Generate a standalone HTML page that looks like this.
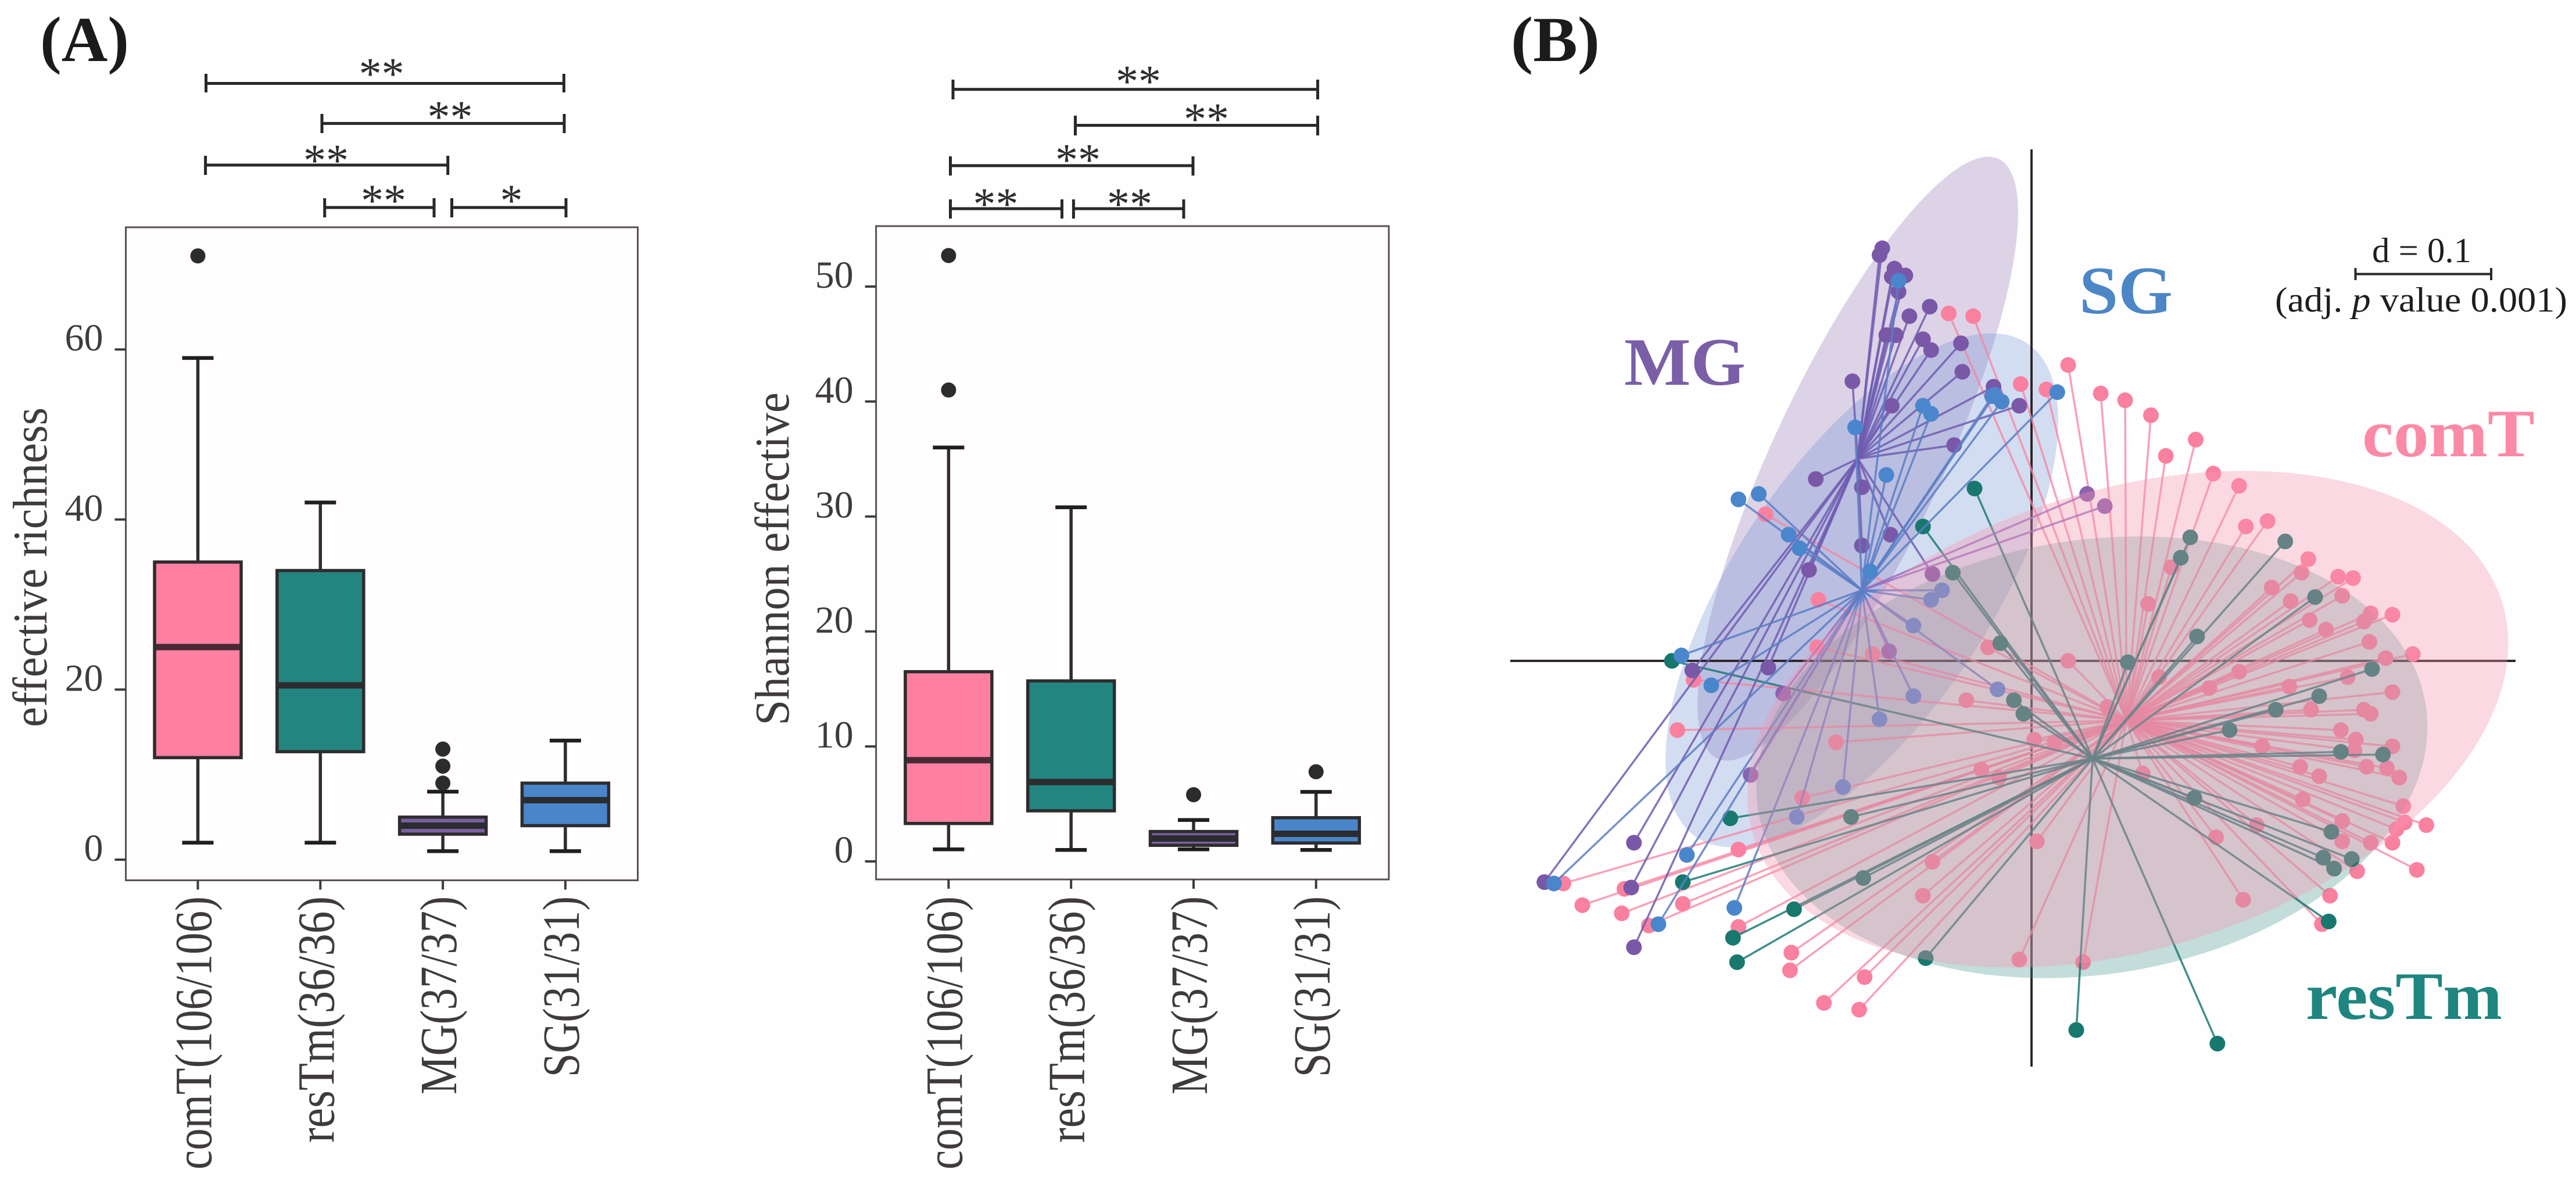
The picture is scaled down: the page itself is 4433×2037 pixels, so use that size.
<!DOCTYPE html>
<html lang="en">
<head>
<meta charset="utf-8">
<title>Alpha diversity boxplots and PCoA ordination</title>
<style>
html,body{margin:0;padding:0;background:#fefefe;}
svg{display:block;font-family:"Liberation Serif",serif;}
</style>
</head>
<body>
<svg id="figure" xmlns="http://www.w3.org/2000/svg" width="4433" height="2037" viewBox="0 0 4433 2037">
  <rect width="4433" height="2037" fill="#fefefe"/>
  <text x="69" y="105" font-size="110" font-weight="bold" fill="#1c1a1a" textLength="153" lengthAdjust="spacingAndGlyphs">(A)</text>
  <text x="2600" y="105" font-size="110" font-weight="bold" fill="#1c1a1a" textLength="153" lengthAdjust="spacingAndGlyphs">(B)</text>

  <g fill="none" stroke="#2a2728" stroke-width="5">
    <path d="M354.5 127V159M354.5 143.5H970.4M970.4 127V159"/>
    <path d="M554 196V229M554 212.4H971M971 196V229"/>
    <path d="M353.6 268V301M353.6 284H770.7M770.7 268V301"/>
    <path d="M558.7 341V374M558.7 357H747M747 341V374"/>
    <path d="M777.5 341V374M777.5 357H974M974 341V374"/>
  </g>
  <g font-size="78" fill="#2f2c2d" text-anchor="middle">
    <text x="656.6" y="153">**</text>
    <text x="774.5" y="227">**</text>
    <text x="561" y="302">**</text>
    <text x="660" y="371">**</text>
    <text x="880" y="371">*</text>
  </g>
  <g fill="none" stroke="#2a2728" stroke-width="5">
    <path d="M1640 137V171M1640 153.7H2267.6M2267.6 137V171"/>
    <path d="M1850.5 199V233M1850.5 215.6H2267.6M2267.6 199V233"/>
    <path d="M1635.5 269V302M1635.5 285H2053M2053 269V302"/>
    <path d="M1635.5 343V376M1635.5 359H1827.5M1827.5 343V376"/>
    <path d="M1847.4 343V376M1847.4 359H2037M2037 343V376"/>
  </g>
  <g font-size="78" fill="#2f2c2d" text-anchor="middle">
    <text x="1959" y="166">**</text>
    <text x="2076" y="231">**</text>
    <text x="1855" y="301">**</text>
    <text x="1713.5" y="377">**</text>
    <text x="1944" y="377">**</text>
  </g>

  <g id="richness-chart"></g>
  <g id="shannon-chart"></g>
  <g id="pcoa-chart"></g>

  <g>
    <path d="M4053.5 461V482M4053.5 471.5H4287M4287 461V482" fill="none" stroke="#2a2829" stroke-width="4"/>
    <text x="4082" y="451" font-size="60" fill="#1f1d1d" textLength="171" lengthAdjust="spacingAndGlyphs">d = 0.1</text>
    <text x="3915" y="536" font-size="60" fill="#1f1d1d" textLength="503" lengthAdjust="spacingAndGlyphs">(adj. <tspan font-style="italic">p</tspan> value 0.001)</text>
  </g>
  <text x="2795" y="662" font-size="117" font-weight="bold" fill="#7a5fa8" textLength="209" lengthAdjust="spacingAndGlyphs">MG</text>
  <text x="3578" y="539" font-size="117" font-weight="bold" fill="#4c86c6" textLength="161" lengthAdjust="spacingAndGlyphs">SG</text>
  <text x="4065" y="785" font-size="117" font-weight="bold" fill="#fb8aa6" textLength="297" lengthAdjust="spacingAndGlyphs">comT</text>
  <text x="3968" y="1753" font-size="117" font-weight="bold" fill="#1f8580" textLength="338" lengthAdjust="spacingAndGlyphs">resTm</text>
</svg>

<script>
// ---------- Panel A data ----------
const categoryLabels = ['comT(106/106)', 'resTm(36/36)', 'MG(37/37)', 'SG(31/31)'];
const categoryColors = ['#ff7fa0', '#23857f', '#7b5fa0', '#4a85c9'];

const richnessTicks = [0, 20, 40, 60];
const richnessLow = [2, 2, 1, 1];
const richnessQ1 = [12, 12.7, 3, 4];
const richnessMedian = [25, 20.5, 4, 7];
const richnessQ3 = [35, 34, 5, 9];
const richnessHigh = [59, 42, 8, 14];
const richnessOutliers = [[71], [], [9, 11, 13], []];

const shannonTicks = [0, 10, 20, 30, 40, 50];
const shannonLow = [1.05, 1, 1.05, 1];
const shannonQ1 = [3.3, 4.4, 1.4, 1.6];
const shannonMedian = [8.8, 6.9, 2, 2.4];
const shannonQ3 = [16.5, 15.7, 2.6, 3.8];
const shannonHigh = [36, 30.8, 3.6, 6.05];
const shannonOutliers = [[41, 52.7], [], [5.8], [7.8]];

// ---------- Panel B data (PCoA scores, in thousandths of d) ----------
const comTCentroid = [70, -44];
const comTX = [-61,-43,-8,-196,-157,11,27,51,69,88,121,99,134,153,158,174,103,204,199,177,86,191,226,237,229,266,250,205,217,245,249,281,261,27,153,233,131,190,266,94,56,206,245,250,228,239,266,238,170,2,17,198,247,262,212,271,200,82,274,229,275,269,291,229,250,266,166,136,4,284,240,220,156,214,-9,38,-37,-24,-249,-158,-117,-32,-48,-261,-144,-169,-216,-73,-80,-345,-300,-331,-302,-257,-282,-216,-177,-178,-123,-153,-127];
const comTY = [256,254,204,108,45,200,218,197,192,181,163,151,138,129,99,103,69,75,65,54,42,44,62,61,48,34,35,30,23,29,14,5,2,0,-8,-12,-20,-19,-23,-12,-34,-36,-36,-39,-51,-58,-63,-66,-63,-58,-60,-78,-78,-79,-85,-86,-102,-83,-107,-118,-119,-124,-121,-133,-134,-134,-121,-130,-133,-154,-155,-173,-176,-194,-220,-222,-80,-86,-14,10,5,10,-29,-51,-60,-101,-139,-148,-173,-164,-168,-180,-186,-179,-195,-196,-215,-228,-233,-252,-257];

const resTmCentroid = [45, -72];
const resTmX = [-42,-80,-58,117,110,187,209,122,-265,-222,-133,-257,-124,-175,-220,-217,-78,-13,-6,-23,71,251,212,180,146,228,259,120,221,215,236,223,219,33,137];
const resTmY = [127,99,65,91,76,88,47,18,0,-116,-115,-163,-160,-183,-204,-222,-219,-29,-39,13,-1,-6,-26,-36,-51,-67,-69,-101,-126,-145,-146,-153,-192,-272,-282];

const mgCentroid = [-128, 149];
const mgX = [-110,-112,-101,-93,-103,-98,-75,-90,-107,-100,-80,-74,-52,-51,-132,-103,-28,-9,-57,-159,-125,-104,-125,-164,-73,-250,-194,-359,-293,-295,-293];
const mgY = [304,299,289,284,283,272,261,254,240,240,237,229,234,213,206,188,202,188,159,134,128,93,85,67,64,-7,-5,-163,-134,-167,-211];

const sgCentroid = [-125, 52];
const sgX = [-130,-107,-98,-80,-74,-29,-22,-27,-216,-201,-179,-171,-119,-74,-66,-87,19,-258,-236,-87,-112,-139,-173,-254,-352,-275,-219,-25];
const sgY = [172,137,280,188,182,195,191,196,119,123,93,83,66,45,52,26,198,4,-18,-26,-43,-93,-115,-143,-164,-194,-182,-21];

// Purple samples whose spokes run to the SG centroid in the reference
const mgLowerX = [41, 54, -207, -183, -105];
const mgLowerY = [123, 114, -84, -24, 7];

// ---------- Helpers ----------
const NS = 'http://www.w3.org/2000/svg';
function mk(tag, attrs, parent) {
  const el = document.createElementNS(NS, tag);
  for (const k in attrs) el.setAttribute(k, attrs[k]);
  parent.appendChild(el);
  return el;
}

// ---------- Box plots ----------
const catLabelLengths = [470, 424, 341, 311];
const INK = '#2d2c2e';
const TEXT = '#3f3b3b';

function drawBoxplot(root, opt) {
  const y = opt.y;
  const cx = i => opt.x0 + i * 210.8;
  const frame = mk('rect', {x: opt.left, y: opt.top, width: opt.right - opt.left, height: opt.bottom - opt.top, fill: '#fffdfd', stroke: '#5a5050', 'stroke-width': 3}, root);
  
  

  opt.ticks.forEach(t => {
    const tick = mk('line', {x1: opt.left - 19, x2: opt.left, y1: y(t), y2: y(t), stroke: '#3f3b3b', 'stroke-width': 4}, root);
    
    
    const lab = mk('text', {x: opt.left - 39, y: y(t) + 2, 'font-size': 66, fill: TEXT, 'text-anchor': 'end'}, root);
    lab.textContent = t;
    
    
  });

  const title = mk('text', {x: opt.titleX, y: opt.titleY, 'font-size': 84, fill: TEXT, textLength: opt.titleLen, lengthAdjust: 'spacingAndGlyphs', transform: 'rotate(-90 ' + opt.titleX + ' ' + opt.titleY + ')'}, root);
  title.textContent = opt.title;
  
  

  categoryLabels.forEach((name, i) => {
    const c = cx(i);
    const g = mk('g', {}, root);
    
    

    const whisker = mk('line', {x1: c, x2: c, y1: y(opt.low[i]), y2: y(opt.high[i]), stroke: INK, 'stroke-width': 5.5}, g);
    
    

    [opt.low[i], opt.high[i]].forEach(v => {
      const cap = mk('line', {x1: c - 27, x2: c + 27, y1: y(v), y2: y(v), stroke: '#201f20', 'stroke-width': 6.5}, g);
      
      
    });

    const box = mk('rect', {x: c - 74.5, width: 149, y: y(opt.q3[i]), height: y(opt.q1[i]) - y(opt.q3[i]), fill: categoryColors[i], stroke: INK, 'stroke-width': 5.5}, g);
    
    

    const med = mk('line', {x1: c - 72, x2: c + 72, y1: y(opt.median[i]), y2: y(opt.median[i]), stroke: i === 0 ? '#472a36' : '#2a2c30', 'stroke-width': 11}, g);
    
    

    opt.outliers[i].forEach(v => {
      const o = mk('circle', {cx: c, cy: y(v), r: 13, fill: '#2c2b2d'}, g);
      
      
    });

    const tick = mk('line', {x1: c, x2: c, y1: opt.bottom, y2: opt.bottom + 16, stroke: '#3f3b3b', 'stroke-width': 4}, root);
    
    

    const lx = c + 23, ly = 1542 + catLabelLengths[i];
    const lab = mk('text', {x: lx, y: ly, 'font-size': 90, fill: TEXT, textLength: catLabelLengths[i], lengthAdjust: 'spacingAndGlyphs', transform: 'rotate(-90 ' + lx + ' ' + ly + ')'}, root);
    lab.textContent = name;
    
    
  });
}

drawBoxplot(document.getElementById('richness-chart'), {
  y: v => 1479 - 14.63 * v, x0: 340.5, left: 216.5, right: 1097.5, top: 391, bottom: 1514.5,
  ticks: richnessTicks, low: richnessLow, q1: richnessQ1, median: richnessMedian, q3: richnessQ3, high: richnessHigh, outliers: richnessOutliers,
  title: 'effective richness', titleX: 80, titleY: 1251, titleLen: 550
});
drawBoxplot(document.getElementById('shannon-chart'), {
  y: v => 1482 - 19.78 * v, x0: 1632.4, left: 1507.6, right: 2390, top: 389, bottom: 1513,
  ticks: shannonTicks, low: shannonLow, q1: shannonQ1, median: shannonMedian, q3: shannonQ3, high: shannonHigh, outliers: shannonOutliers,
  title: 'Shannon effective', titleX: 1357, titleY: 1248, titleLen: 573
});

// ---------- PCoA ----------
const pcoaRoot = document.getElementById('pcoa-chart');
const px = v => 3496 + v * 2.335;
const py = v => 1137 - v * 2.335;

function drawEllipse(center, rx, ry, angle, fill, opacity, name) {
  const cx = px(center[0]), cy = py(center[1]);
  const e = mk('ellipse', {cx: cx, cy: cy, rx: rx * 2.335, ry: ry * 2.335, fill: fill, 'fill-opacity': opacity, transform: 'rotate(' + (-angle) + ' ' + cx + ' ' + cy + ')'}, pcoaRoot);
  
  
}

function drawSpider(xs, ys, centroid, lineColor, dotColor, lineOpacity, name) {
  const g = mk('g', {}, pcoaRoot);
  
  
  xs.forEach((x, i) => {
    const l = mk('line', {x1: px(centroid[0]), y1: py(centroid[1]), x2: px(x), y2: py(ys[i]), stroke: lineColor, 'stroke-width': 3.5, 'stroke-opacity': lineOpacity}, g);
    
    
  });
  xs.forEach((x, i) => {
    const d = mk('circle', {cx: px(x), cy: py(ys[i]), r: 13.5, fill: dotColor}, g);
    
    
  });
}

drawEllipse(mgCentroid, 244, 62.5, 64.85, '#7a5aa6', 0.26, 'mg-ellipse');
drawEllipse(sgCentroid, 219, 94, 56.2, '#5f86d0', 0.27, 'sg-ellipse');

const axisH = mk('line', {x1: 2599, x2: 4329, y1: py(0), y2: py(0), stroke: '#2e262a', 'stroke-width': 4}, pcoaRoot);


const axisV = mk('line', {x1: px(0), x2: px(0), y1: 257, y2: 1835, stroke: '#2e262a', 'stroke-width': 4}, pcoaRoot);



drawEllipse([44.5, -71], 249, 160, 8.9, 'rgb(55,145,132)', 0.18, 'restm-ellipse');

drawSpider(comTX, comTY, comTCentroid, '#f7829f', '#fa80a0', 0.75, 'comt-spider');

drawEllipse([44.5, -71], 249, 160, 8.9, 'rgb(55,145,132)', 0.14, 'restm-ellipse-overlay');

drawSpider(resTmX, resTmY, resTmCentroid, '#1e7a74', '#17786e', 0.85, 'restm-spider');
drawSpider(mgX, mgY, mgCentroid, '#6f5cb0', '#7a58a8', 0.85, 'mg-spider');
drawSpider(mgLowerX, mgLowerY, sgCentroid, '#9468bc', '#8a62ae', 0.8, 'mg-lower-spider');
drawSpider(sgX, sgY, sgCentroid, '#5a7ec4', '#4a86cc', 0.85, 'sg-spider');

drawEllipse([71, -43], 289, 169, 17.4, 'rgb(245,149,175)', 0.35, 'comt-ellipse');
</script>
</body>
</html>
